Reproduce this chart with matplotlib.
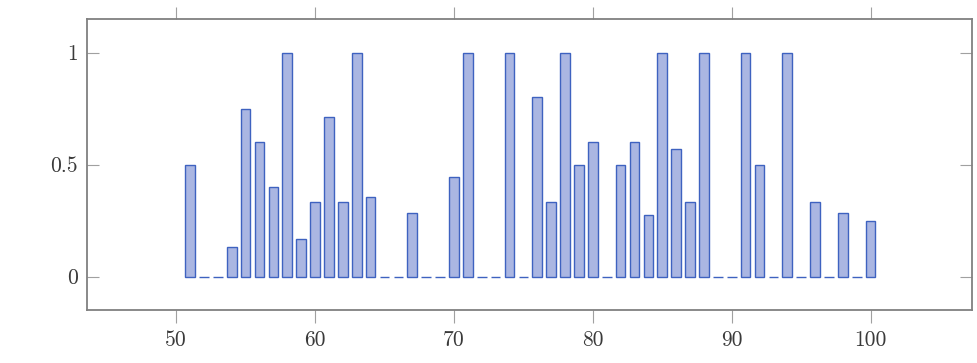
import matplotlib
matplotlib.use("Agg")
import matplotlib.pyplot as plt
import numpy as np

# x positions and bar heights
xs = list(range(51, 101))
vals = [0.5, 0, 0, 0.133, 0.75, 0.6, 0.4, 1.0, 0.167, 0.333,
        0.714, 0.333, 1.0, 0.354, 0, 0, 0.286, 0, 0, 0.444,
        1.0, 0, 0, 1.0, 0, 0.8, 0.333, 1.0, 0.5, 0.6,
        0, 0.5, 0.6, 0.273, 1.0, 0.571, 0.333, 1.0, 0, 0,
        1.0, 0.5, 0, 1.0, 0, 0.333, 0, 0.286, 0, 0.25]
xticks = [50, 60, 70, 80, 90, 100]
yticks = [0, 0.5, 1]
ytick_labels = ["0", "0.5", "1"]

FILL = "#AAB6E2"
EDGE = "#3E62C0"
FRAME = "#808080"

plt.rcParams["font.family"] = "serif"
plt.rcParams["font.serif"] = ["cmr10", "DejaVu Serif"]
plt.rcParams["axes.formatter.use_mathtext"] = True

fig = plt.figure(figsize=(9.78, 3.63), dpi=100)
ax = fig.add_axes([87.3 / 978, 1 - 310 / 363, (972 - 87.3) / 978, (310 - 19.3) / 363])

ax.bar(xs, vals, width=0.7, color=FILL, edgecolor=EDGE, linewidth=1.0)

ax.set_xlim(43.6, 107.3)
ax.set_ylim(-0.149, 1.149)
ax.set_xticks(xticks)
ax.set_xticklabels([str(t) for t in xticks])
ax.set_yticks(yticks)
ax.set_yticklabels(ytick_labels)

for sp in ax.spines.values():
    sp.set_edgecolor(FRAME)
    sp.set_linewidth(1.3)

ax.tick_params(axis="x", direction="out", top=True, bottom=True, length=9,
               width=0.8, color="#a0a0a0", labelsize=15.5, labelcolor="#3a3a3a", pad=6)
ax.tick_params(axis="y", direction="in", left=True, right=True, length=8.5,
               width=0.8, color="#a0a0a0", labelsize=15.5, labelcolor="#3a3a3a", pad=7)

fig.savefig("out.png", dpi=100, facecolor="white")
